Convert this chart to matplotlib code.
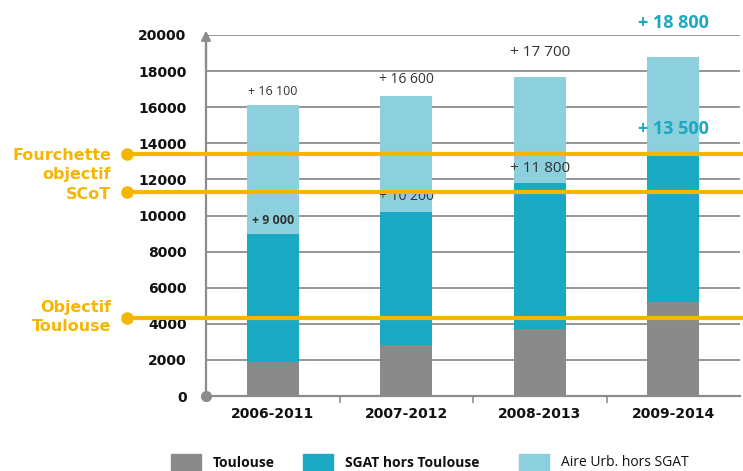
import matplotlib
matplotlib.use("Agg")
import matplotlib.pyplot as plt
from matplotlib.patches import Rectangle
import numpy as np

# Data
periods = ["2006-2011", "2007-2012", "2008-2013", "2009-2014"]
toulouse = [1900, 2800, 3700, 5200]
sgat_cumul = [9000, 10200, 11800, 13500]      # Toulouse + SGAT hors Toulouse
total = [16100, 16600, 17700, 18800]          # + Aire Urb. hors SGAT
sgat_labels = ["+ 9 000", "+ 10 200", "+ 11 800", "+ 13 500"]
total_labels = ["+ 16 100", "+ 16 600", "+ 17 700", "+ 18 800"]
series_names = ["Toulouse", "SGAT hors Toulouse", "Aire Urb. hors SGAT"]
objectives = [13400, 11300, 4300]
objective_texts = ["Fourchette\nobjectif\nSCoT", "Objectif\nToulouse"]
yticks = list(range(0, 20001, 2000))

c_toul = "#8a8a8a"
c_sgat = "#19a9c2"
c_aire = "#8dd0dd"
c_gold = "#f5b600"
c_grid = "#8c8c8c"
c_dark = "#333333"

fig = plt.figure(figsize=(7.43, 4.71), dpi=100)
ax = fig.add_axes([206 / 743, 1 - 396 / 471, 534 / 743, 361 / 471])

x = np.arange(len(periods))
w = 0.39
toul = np.array(toulouse)
sgat = np.array(sgat_cumul) - toul
aire = np.array(total) - np.array(sgat_cumul)

ax.bar(x, toul, w, color=c_toul, zorder=2)
ax.bar(x, sgat, w, bottom=toul, color=c_sgat, zorder=2)
ax.bar(x, aire, w, bottom=np.array(sgat_cumul), color=c_aire, zorder=2)

ax.set_xlim(-0.5, len(periods) - 0.5)
ax.set_ylim(0, 20000)
ax.set_yticks(yticks)
ax.set_yticklabels([str(v) for v in yticks], fontsize=10, fontweight="bold",
                   color="#111111")
ax.set_xticks(x)
ax.set_xticklabels(periods, fontsize=10, fontweight="bold", color="#111111")
ax.tick_params(axis="y", length=0, pad=14)
ax.tick_params(axis="x", length=0, pad=8)
ax.set_xticks(np.arange(0.5, len(periods) - 0.5, 1), minor=True)
ax.tick_params(axis="x", which="minor", length=5, width=1.2, color=c_grid,
               direction="out")

ax.yaxis.grid(True, color=c_grid, linewidth=1.3, zorder=1)
for s in ["top", "right"]:
    ax.spines[s].set_visible(False)
ax.spines["left"].set_color(c_grid)
ax.spines["left"].set_linewidth(1.6)
ax.spines["bottom"].set_color(c_grid)
ax.spines["bottom"].set_linewidth(1.6)
ax.set_axisbelow(True)

# arrow on top of the y axis and dot at the origin
ax.annotate("", xy=(0, 1.02), xytext=(0, 0.9), xycoords="axes fraction",
            arrowprops=dict(arrowstyle="-|>", color=c_grid, lw=1.6,
                            mutation_scale=14), annotation_clip=False)
ax.plot([0], [0], "o", color=c_grid, markersize=7, transform=ax.transAxes,
        clip_on=False, zorder=5)

# value labels
sgat_styles = [
    dict(fontsize=9, color=c_dark, fontweight="bold", off=5),
    dict(fontsize=10, color=c_dark, fontweight="normal", off=6),
    dict(fontsize=11, color=c_dark, fontweight="normal", off=5),
    dict(fontsize=13, color=c_sgat, fontweight="bold", off=10),
]
total_styles = [
    dict(fontsize=9, color=c_dark, fontweight="normal", off=5),
    dict(fontsize=10, color=c_dark, fontweight="normal", off=7),
    dict(fontsize=11, color=c_dark, fontweight="normal", off=12),
    dict(fontsize=13, color=c_sgat, fontweight="bold", off=18),
]
for i in range(len(periods)):
    st = sgat_styles[i]
    ax.annotate(sgat_labels[i], (x[i], sgat_cumul[i]), xytext=(0, st["off"]),
                textcoords="offset points", ha="center", va="bottom",
                fontsize=st["fontsize"], color=st["color"],
                fontweight=st["fontweight"], family="Open Sans", zorder=4)
    st = total_styles[i]
    ax.annotate(total_labels[i], (x[i], total[i]), xytext=(0, st["off"]),
                textcoords="offset points", ha="center", va="bottom",
                fontsize=st["fontsize"], color=st["color"],
                fontweight=st["fontweight"], family="Open Sans", zorder=4,
                annotation_clip=False)

# objective lines
tr = ax.get_yaxis_transform()
x0 = (127 - 206) / 534
for val in objectives:
    ax.plot([x0, 1.02], [val, val], color=c_gold, linewidth=3, transform=tr,
            clip_on=False, zorder=6, solid_capstyle="butt")
    ax.plot([x0], [val], "o", color=c_gold, markersize=8, transform=tr,
            clip_on=False, zorder=7)

fig.text(111 / 743, 1 - 175 / 471, objective_texts[0], ha="right", va="center",
         fontsize=11.5, fontweight="bold", color=c_gold, linespacing=1.35)
fig.text(111 / 743, 1 - 317 / 471, objective_texts[1], ha="right", va="center",
         fontsize=11.5, fontweight="bold", color=c_gold, linespacing=1.35)

# legend
leg_x = [171, 303, 519]
for lx, name, col in zip(leg_x, series_names, [c_toul, c_sgat, c_aire]):
    fig.patches.append(Rectangle((lx / 743, 0), 30 / 743, 17 / 471,
                                 transform=fig.transFigure, color=col))
    fig.text((lx + 42) / 743, 1 - 463 / 471, name, ha="left", va="center",
             fontsize=10, fontweight="bold" if col != c_aire else "normal",
             color="#111111", family="Open Sans")

fig.savefig("out.png", dpi=100)
